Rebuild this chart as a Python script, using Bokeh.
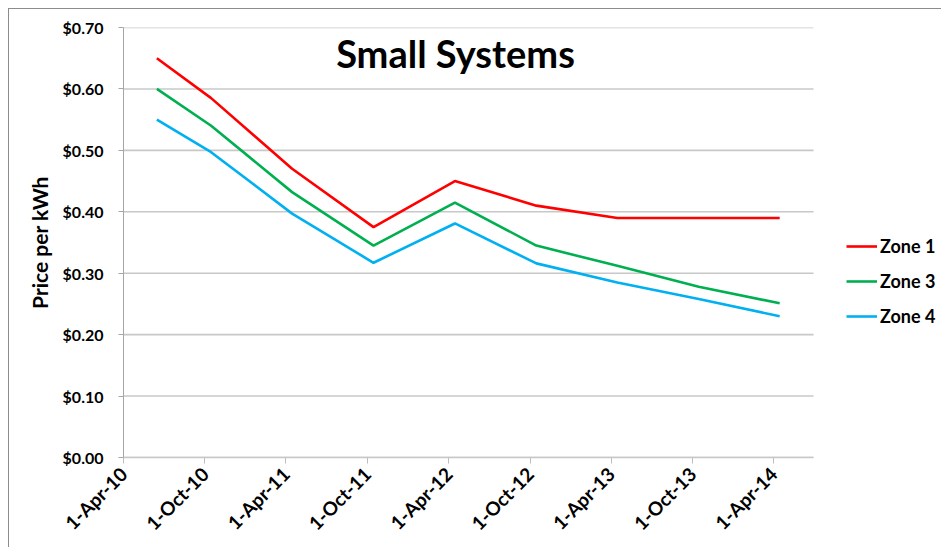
from datetime import datetime
from bokeh.plotting import figure
from bokeh.models import (Range1d, FixedTicker, NumeralTickFormatter, Legend, LegendItem,
                          Label, ColumnDataSource)
from bokeh.embed import file_html
from bokeh.resources import INLINE
import math

# ---- data ----
dates = ["2010-06-15", "2010-10-15", "2011-04-15", "2011-10-15", "2012-04-15",
         "2012-10-15", "2013-04-15", "2013-10-15", "2014-04-15"]
zone1 = [0.65, 0.585, 0.47, 0.375, 0.45, 0.41, 0.39, 0.39, 0.39]
zone3 = [0.60, 0.54, 0.432, 0.345, 0.415, 0.345, 0.312, 0.278, 0.251]
zone4 = [0.55, 0.497, 0.397, 0.317, 0.381, 0.316, 0.285, 0.258, 0.23]
series_names = ["Zone 1", "Zone 3", "Zone 4"]
series_colors = ["#FF0000", "#00B050", "#00B0F0"]
tick_dates = ["2010-04-01", "2010-10-01", "2011-04-01", "2011-10-01", "2012-04-01",
              "2012-10-01", "2013-04-01", "2013-10-01", "2014-04-01"]
tick_labels = ["1-Apr-10", "1-Oct-10", "1-Apr-11", "1-Oct-11", "1-Apr-12",
               "1-Oct-12", "1-Apr-13", "1-Oct-13", "1-Apr-14"]
y_ticks = [0.0, 0.1, 0.2, 0.3, 0.4, 0.5, 0.6, 0.7]
axis_start = "2010-04-01"
axis_end = "2014-06-30"


def ms(s):
    return datetime.strptime(s, "%Y-%m-%d").timestamp() * 1000.0


xs = [datetime.strptime(d, "%Y-%m-%d") for d in dates]
tick_ms = [ms(d) for d in tick_dates]

FONT = "Lato"
OFF = 8   # offset of chart border from window edge
BW = 1    # chart border width

# plot area spans 123..813 px for the axis range; the frame runs on to the
# window edge (942) so the legend can sit inside it
x0, x1 = ms(axis_start), ms(axis_end)
frame_end = x0 + (x1 - x0) * (942 - 123) / (813 - 123)

p = figure(width=942 - OFF - BW, height=548 - OFF - BW, x_axis_type="datetime",
           x_range=Range1d(x0, frame_end),
           y_range=Range1d(0, 0.7),
           output_backend="svg", toolbar_location=None,
           min_border_left=123 - OFF - BW, min_border_right=0,
           min_border_top=27 - OFF - BW, min_border_bottom=548 - 457)
p.margin = (OFF, 0, 0, OFF)
p.styles = {"border-top": f"{BW}px solid #8C8C8C", "border-left": f"{BW}px solid #8C8C8C"}
p.outline_line_color = None
p.background_fill_color = "white"
p.border_fill_color = "white"

# horizontal gridlines limited to the axis range
p.segment(x0=[x0] * len(y_ticks), y0=y_ticks, x1=[x1] * len(y_ticks), y1=y_ticks,
          line_color="#C8C8C8", line_width=1.6, level="underlay")

renderers = []
for vals, col in zip([zone1, zone3, zone4], series_colors):
    src = ColumnDataSource(dict(x=xs, y=vals))
    r = p.line("x", "y", source=src, line_color=col, line_width=2.6)
    renderers.append(r)

# axes
xa = p.xaxis[0]
xa.bounds = (x0, x1)
xa.ticker = FixedTicker(ticks=tick_ms)
xa.major_label_overrides = {t: l for t, l in zip(tick_ms, tick_labels)}
xa.major_label_orientation = math.pi / 4
xa.minor_tick_line_color = None
xa.axis_line_color = "#C8C8C8"
xa.axis_line_width = 1.6
xa.major_tick_line_color = "#BFBFBF"
xa.major_tick_in = 0
xa.major_tick_out = 6
xa.major_label_text_font = FONT
xa.major_label_text_font_style = "bold"
xa.major_label_text_font_size = "19px"
xa.major_label_text_color = "#000000"
xa.major_label_standoff = 7

ya = p.yaxis[0]
ya.ticker = FixedTicker(ticks=y_ticks)
ya.formatter = NumeralTickFormatter(format="$0.00")
ya.minor_tick_line_color = None
ya.axis_line_color = "#A6A6A6"
ya.major_tick_line_color = "#A6A6A6"
ya.major_tick_in = 0
ya.major_tick_out = 5
ya.major_label_standoff = 15
ya.major_label_text_font = FONT
ya.major_label_text_font_style = "bold"
ya.major_label_text_font_size = "16px"
ya.major_label_text_color = "#000000"
ya.axis_label = "Price per kWh"
ya.axis_label_text_font = FONT
ya.axis_label_text_font_style = "bold"
ya.axis_label_text_font_size = "21px"
ya.axis_label_text_color = "#000000"
ya.axis_label_standoff = 8

p.xgrid.grid_line_color = None
p.ygrid.grid_line_color = None

# title inside plot area
p.add_layout(Label(x=332, y=405, x_units="screen", y_units="screen",
                   text="Small Systems", text_font=FONT, text_font_style="bold",
                   text_font_size="38px", text_align="center", text_baseline="alphabetic",
                   text_color="#000000"))

legend = Legend(items=[LegendItem(label=n, renderers=[r]) for n, r in zip(series_names, renderers)],
                location=(723, 130), border_line_color=None, background_fill_alpha=0,
                padding=0, margin=0, spacing=13, glyph_width=31, glyph_height=20,
                label_height=20, label_standoff=3,
                label_text_font=FONT, label_text_font_style="bold",
                label_text_font_size="18px", label_text_color="#000000")
p.add_layout(legend)

open("out.html", "w").write(file_html(p, INLINE))
